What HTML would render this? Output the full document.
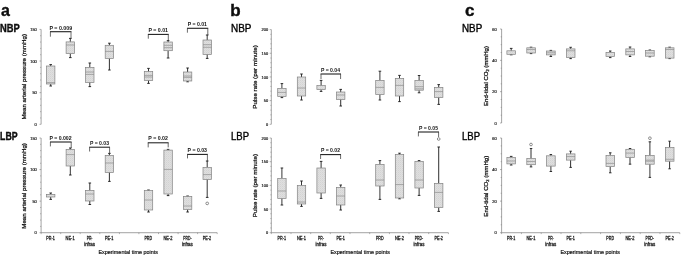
<!DOCTYPE html>
<html><head><meta charset="utf-8"><title>Figure</title>
<style>
html,body{margin:0;padding:0;background:#fff;}
body{width:685px;height:255px;overflow:hidden;}
svg{display:block;font-family:"Liberation Sans",sans-serif;}
</style></head>
<body>
<svg width="685" height="255" viewBox="0 0 685 255">
<defs>
<pattern id="dots" width="2" height="2" patternUnits="userSpaceOnUse"><rect width="2" height="2" fill="#dfdfdf"/><rect width="1" height="1" fill="#d3d3d3"/><rect x="1" y="1" width="1" height="1" fill="#d9d9d9"/></pattern>
<filter id="soft" x="-2%" y="-2%" width="104%" height="104%"><feGaussianBlur stdDeviation="0.48"/></filter>
</defs>
<rect width="685" height="255" fill="#fff"/>
<g filter="url(#soft)">
<text x="0.9" y="16.0" font-size="16" text-anchor="start" font-weight="bold" fill="#0a0a0a" stroke="#0a0a0a" stroke-width="0.3">a</text>
<text x="230.2" y="16.0" font-size="17" text-anchor="start" font-weight="bold" fill="#0a0a0a" stroke="#0a0a0a" stroke-width="0.35">b</text>
<text x="465.0" y="16.0" font-size="17" text-anchor="start" font-weight="bold" fill="#0a0a0a" stroke="#0a0a0a" stroke-width="0.35">c</text>
<text x="-0.1" y="31.9" font-size="10.3" text-anchor="start" font-weight="bold" fill="#0a0a0a" textLength="19.7" lengthAdjust="spacingAndGlyphs" stroke="#0a0a0a" stroke-width="0.35">NBP</text>
<text x="0.1" y="140.4" font-size="10.3" text-anchor="start" font-weight="bold" fill="#0a0a0a" textLength="17.5" lengthAdjust="spacingAndGlyphs" stroke="#0a0a0a" stroke-width="0.35">LBP</text>
<text x="231.0" y="32.0" font-size="10.3" text-anchor="start" font-weight="normal" fill="#000" textLength="20.4" lengthAdjust="spacingAndGlyphs" stroke="#000" stroke-width="0.36">NBP</text>
<text x="231.0" y="140.4" font-size="10.3" text-anchor="start" font-weight="normal" fill="#000" textLength="18.0" lengthAdjust="spacingAndGlyphs" stroke="#000" stroke-width="0.36">LBP</text>
<text x="462.0" y="31.6" font-size="10.3" text-anchor="start" font-weight="normal" fill="#000" textLength="20.2" lengthAdjust="spacingAndGlyphs" stroke="#000" stroke-width="0.36">NBP</text>
<text x="462.0" y="140.4" font-size="10.3" text-anchor="start" font-weight="normal" fill="#000" textLength="18.0" lengthAdjust="spacingAndGlyphs" stroke="#000" stroke-width="0.36">LBP</text>
<path d="M41.1 29.4V124.3" stroke="#666" stroke-width="0.6" fill="none"/>
<path d="M39.5 29.40H41.1M40.2 35.73H41.1M40.2 42.05H41.1M40.2 48.38H41.1M40.2 54.71H41.1M39.5 61.03H41.1M40.2 67.36H41.1M40.2 73.69H41.1M40.2 80.01H41.1M40.2 86.34H41.1M39.5 92.67H41.1M40.2 98.99H41.1M40.2 105.32H41.1M40.2 111.65H41.1M40.2 117.97H41.1M39.5 124.30H41.1" stroke="#666" stroke-width="0.5" fill="none"/>
<text x="36.8" y="31.0" font-size="4.4" text-anchor="end" font-weight="normal" fill="#111" textLength="6.6" lengthAdjust="spacingAndGlyphs" stroke="#111" stroke-width="0.18">150</text>
<text x="36.8" y="62.7" font-size="4.4" text-anchor="end" font-weight="normal" fill="#111" textLength="6.6" lengthAdjust="spacingAndGlyphs" stroke="#111" stroke-width="0.18">100</text>
<text x="36.8" y="94.3" font-size="4.4" text-anchor="end" font-weight="normal" fill="#111" textLength="4.4" lengthAdjust="spacingAndGlyphs" stroke="#111" stroke-width="0.18">50</text>
<text x="36.8" y="126.0" font-size="4.4" text-anchor="end" font-weight="normal" fill="#111" textLength="2.2" lengthAdjust="spacingAndGlyphs" stroke="#111" stroke-width="0.18">0</text>
<path d="M41.1 138.0V232.7" stroke="#666" stroke-width="0.6" fill="none"/>
<path d="M39.5 138.00H41.1M40.2 144.31H41.1M40.2 150.63H41.1M40.2 156.94H41.1M40.2 163.25H41.1M39.5 169.57H41.1M40.2 175.88H41.1M40.2 182.19H41.1M40.2 188.51H41.1M40.2 194.82H41.1M39.5 201.13H41.1M40.2 207.45H41.1M40.2 213.76H41.1M40.2 220.07H41.1M40.2 226.39H41.1M39.5 232.70H41.1" stroke="#666" stroke-width="0.5" fill="none"/>
<text x="36.8" y="139.7" font-size="4.4" text-anchor="end" font-weight="normal" fill="#111" textLength="6.6" lengthAdjust="spacingAndGlyphs" stroke="#111" stroke-width="0.18">150</text>
<text x="36.8" y="171.2" font-size="4.4" text-anchor="end" font-weight="normal" fill="#111" textLength="6.6" lengthAdjust="spacingAndGlyphs" stroke="#111" stroke-width="0.18">100</text>
<text x="36.8" y="202.8" font-size="4.4" text-anchor="end" font-weight="normal" fill="#111" textLength="4.4" lengthAdjust="spacingAndGlyphs" stroke="#111" stroke-width="0.18">50</text>
<text x="36.8" y="234.3" font-size="4.4" text-anchor="end" font-weight="normal" fill="#111" textLength="2.2" lengthAdjust="spacingAndGlyphs" stroke="#111" stroke-width="0.18">0</text>
<path d="M41.1 232.7H217.2" stroke="#666" stroke-width="0.6" fill="none"/>
<path d="M41.1 232.7v1.4M60.7 232.7v1.4M80.2 232.7v1.4M99.8 232.7v1.4M119.4 232.7v1.4M138.9 232.7v1.4M158.5 232.7v1.4M178.1 232.7v1.4M197.6 232.7v1.4M217.2 232.7v1.4" stroke="#666" stroke-width="0.5" fill="none"/>
<text x="50.5" y="240.4" font-size="4.5" text-anchor="middle" font-weight="normal" fill="#222" textLength="8.5" lengthAdjust="spacingAndGlyphs" stroke="#222" stroke-width="0.26">PR-1</text>
<text x="70.1" y="240.4" font-size="4.5" text-anchor="middle" font-weight="normal" fill="#222" textLength="9.0" lengthAdjust="spacingAndGlyphs" stroke="#222" stroke-width="0.26">NE-1</text>
<text x="89.6" y="240.4" font-size="4.5" text-anchor="middle" font-weight="normal" fill="#222" textLength="5.8" lengthAdjust="spacingAndGlyphs" stroke="#222" stroke-width="0.26">PR-</text>
<text x="89.6" y="246.0" font-size="4.5" text-anchor="middle" font-weight="normal" fill="#222" textLength="10.9" lengthAdjust="spacingAndGlyphs" stroke="#222" stroke-width="0.26">infras</text>
<text x="109.2" y="240.4" font-size="4.5" text-anchor="middle" font-weight="normal" fill="#222" textLength="8.4" lengthAdjust="spacingAndGlyphs" stroke="#222" stroke-width="0.26">PE-1</text>
<text x="148.3" y="240.4" font-size="4.5" text-anchor="middle" font-weight="normal" fill="#222" textLength="7.7" lengthAdjust="spacingAndGlyphs" stroke="#222" stroke-width="0.26">PRD</text>
<text x="167.9" y="240.4" font-size="4.5" text-anchor="middle" font-weight="normal" fill="#222" textLength="9.0" lengthAdjust="spacingAndGlyphs" stroke="#222" stroke-width="0.26">NE-2</text>
<text x="187.4" y="240.4" font-size="4.5" text-anchor="middle" font-weight="normal" fill="#222" textLength="8.4" lengthAdjust="spacingAndGlyphs" stroke="#222" stroke-width="0.26">PRD-</text>
<text x="187.4" y="246.0" font-size="4.5" text-anchor="middle" font-weight="normal" fill="#222" textLength="10.9" lengthAdjust="spacingAndGlyphs" stroke="#222" stroke-width="0.26">infras</text>
<text x="207.0" y="240.4" font-size="4.5" text-anchor="middle" font-weight="normal" fill="#222" textLength="8.4" lengthAdjust="spacingAndGlyphs" stroke="#222" stroke-width="0.26">PE-2</text>
<text x="128.2" y="253.6" font-size="5.4" text-anchor="middle" font-weight="normal" fill="#111" textLength="59.6" lengthAdjust="spacingAndGlyphs" stroke="#111" stroke-width="0.18">Experimental time points</text>
<text transform="translate(26.2 76.8) rotate(-90)" font-size="6.1" text-anchor="middle" font-weight="normal" fill="#111" stroke="#111" stroke-width="0.25" textLength="85.6" lengthAdjust="spacingAndGlyphs">Mean arterial pressure (mmHg)</text>
<text transform="translate(26.2 185.9) rotate(-90)" font-size="6.1" text-anchor="middle" font-weight="normal" fill="#111" stroke="#111" stroke-width="0.25" textLength="85.6" lengthAdjust="spacingAndGlyphs">Mean arterial pressure (mmHg)</text>
<path d="M50.7 64.6V66.0M49.4 64.6H52.0" stroke="#1c1c1c" stroke-width="0.9" fill="none"/><path d="M50.7 84.0V86.0M49.4 86.0H52.0" stroke="#1c1c1c" stroke-width="0.9" fill="none"/><rect x="46.5" y="66.0" width="8.4" height="18.0" fill="url(#dots)" stroke="#828282" stroke-width="0.7"/><path d="M46.5 82.6H54.9" stroke="#828282" stroke-width="0.6"/>
<path d="M70.3 38.4V41.9M69.0 38.4H71.6" stroke="#1c1c1c" stroke-width="0.9" fill="none"/><path d="M70.3 53.6V57.6M69.0 57.6H71.6" stroke="#1c1c1c" stroke-width="0.9" fill="none"/><rect x="66.1" y="41.9" width="8.4" height="11.7" fill="url(#dots)" stroke="#828282" stroke-width="0.7"/><path d="M66.1 45.0H74.5" stroke="#828282" stroke-width="0.6"/>
<path d="M89.8 63.0V67.4M88.5 63.0H91.1" stroke="#1c1c1c" stroke-width="0.9" fill="none"/><path d="M89.8 82.4V86.6M88.5 86.6H91.1" stroke="#1c1c1c" stroke-width="0.9" fill="none"/><rect x="85.6" y="67.4" width="8.4" height="15.0" fill="url(#dots)" stroke="#828282" stroke-width="0.7"/><path d="M85.6 72.0H94.0" stroke="#828282" stroke-width="0.6"/><path d="M85.6 74.4H94.0" stroke="#828282" stroke-width="0.6"/>
<path d="M109.4 43.2V45.3M108.1 43.2H110.7" stroke="#1c1c1c" stroke-width="0.9" fill="none"/><path d="M109.4 58.4V70.0M108.1 70.0H110.7" stroke="#1c1c1c" stroke-width="0.9" fill="none"/><rect x="105.2" y="45.3" width="8.4" height="13.1" fill="url(#dots)" stroke="#828282" stroke-width="0.7"/><path d="M105.2 51.4H113.6" stroke="#828282" stroke-width="0.6"/>
<path d="M148.5 68.4V71.6M147.2 68.4H149.8" stroke="#1c1c1c" stroke-width="0.9" fill="none"/><path d="M148.5 80.4V83.4M147.2 83.4H149.8" stroke="#1c1c1c" stroke-width="0.9" fill="none"/><rect x="144.3" y="71.6" width="8.4" height="8.8" fill="url(#dots)" stroke="#828282" stroke-width="0.7"/><path d="M144.3 75.4H152.7" stroke="#828282" stroke-width="0.6"/><path d="M144.3 77.0H152.7" stroke="#828282" stroke-width="0.6"/>
<path d="M168.1 40.6V42.0M166.8 40.6H169.4" stroke="#1c1c1c" stroke-width="0.9" fill="none"/><path d="M168.1 50.7V58.0M166.8 58.0H169.4" stroke="#1c1c1c" stroke-width="0.9" fill="none"/><rect x="163.9" y="42.0" width="8.4" height="8.7" fill="url(#dots)" stroke="#828282" stroke-width="0.7"/><path d="M163.9 45.3H172.3" stroke="#828282" stroke-width="0.6"/><path d="M163.9 47.7H172.3" stroke="#828282" stroke-width="0.6"/>
<path d="M187.6 68.0V72.0M186.3 68.0H188.9" stroke="#1c1c1c" stroke-width="0.9" fill="none"/><path d="M187.6 81.0V81.8M186.3 81.8H188.9" stroke="#1c1c1c" stroke-width="0.9" fill="none"/><rect x="183.4" y="72.0" width="8.4" height="9.0" fill="url(#dots)" stroke="#828282" stroke-width="0.7"/><path d="M183.4 76.0H191.8" stroke="#828282" stroke-width="0.6"/><path d="M183.4 77.4H191.8" stroke="#828282" stroke-width="0.6"/>
<path d="M207.2 35.0V40.0M205.9 35.0H208.5" stroke="#1c1c1c" stroke-width="0.9" fill="none"/><path d="M207.2 54.4V58.4M205.9 58.4H208.5" stroke="#1c1c1c" stroke-width="0.9" fill="none"/><rect x="203.0" y="40.0" width="8.4" height="14.4" fill="url(#dots)" stroke="#828282" stroke-width="0.7"/><path d="M203.0 44.7H211.4" stroke="#828282" stroke-width="0.6"/><path d="M203.0 47.3H211.4" stroke="#828282" stroke-width="0.6"/>
<path d="M50.0 31.7H71.4" stroke="#1a1a1a" stroke-width="1.05" fill="none"/><path d="M50.4 31.7V36.7M71.0 31.7V38.4" stroke="#3a3a3a" stroke-width="0.75" fill="none"/>
<text x="49.4" y="29.8" font-size="5.1" text-anchor="start" font-weight="bold" fill="#111" textLength="22.8" lengthAdjust="spacingAndGlyphs">P = 0.009</text>
<path d="M147.9 34.4H168.7" stroke="#1a1a1a" stroke-width="1.05" fill="none"/><path d="M148.3 34.4V38.7M168.3 34.4V40.6" stroke="#3a3a3a" stroke-width="0.75" fill="none"/>
<text x="148.4" y="32.0" font-size="5.1" text-anchor="start" font-weight="bold" fill="#111" textLength="19.6" lengthAdjust="spacingAndGlyphs">P = 0.01</text>
<path d="M187.0 28.3H208.2" stroke="#1a1a1a" stroke-width="1.05" fill="none"/><path d="M187.4 28.3V32.7M207.8 28.3V35.0" stroke="#3a3a3a" stroke-width="0.75" fill="none"/>
<text x="187.7" y="25.6" font-size="5.1" text-anchor="start" font-weight="bold" fill="#111" textLength="19.3" lengthAdjust="spacingAndGlyphs">P = 0.01</text>
<path d="M50.7 193.0V194.4M49.4 193.0H52.0" stroke="#1c1c1c" stroke-width="0.9" fill="none"/><path d="M50.7 197.0V199.4M49.4 199.4H52.0" stroke="#1c1c1c" stroke-width="0.9" fill="none"/><rect x="46.5" y="194.4" width="8.4" height="2.6" fill="url(#dots)" stroke="#828282" stroke-width="0.7"/>
<path d="M70.3 148.0V149.4M69.0 148.0H71.6" stroke="#1c1c1c" stroke-width="0.9" fill="none"/><path d="M70.3 166.0V175.0M69.0 175.0H71.6" stroke="#1c1c1c" stroke-width="0.9" fill="none"/><rect x="66.1" y="149.4" width="8.4" height="16.6" fill="url(#dots)" stroke="#828282" stroke-width="0.7"/><path d="M66.1 154.6H74.5" stroke="#828282" stroke-width="0.6"/>
<path d="M89.8 183.0V190.4M88.5 183.0H91.1" stroke="#1c1c1c" stroke-width="0.9" fill="none"/><path d="M89.8 201.0V204.5M88.5 204.5H91.1" stroke="#1c1c1c" stroke-width="0.9" fill="none"/><rect x="85.6" y="190.4" width="8.4" height="10.6" fill="url(#dots)" stroke="#828282" stroke-width="0.7"/><path d="M85.6 194.0H94.0" stroke="#828282" stroke-width="0.6"/>
<path d="M109.4 153.4V155.4M108.1 153.4H110.7" stroke="#1c1c1c" stroke-width="0.9" fill="none"/><path d="M109.4 172.4V181.4M108.1 181.4H110.7" stroke="#1c1c1c" stroke-width="0.9" fill="none"/><rect x="105.2" y="155.4" width="8.4" height="17.0" fill="url(#dots)" stroke="#828282" stroke-width="0.7"/><path d="M105.2 163.0H113.6" stroke="#828282" stroke-width="0.6"/>
<path d="M148.5 190.0V190.6M147.2 190.0H149.8" stroke="#1c1c1c" stroke-width="0.9" fill="none"/><path d="M148.5 210.0V212.0M147.2 212.0H149.8" stroke="#1c1c1c" stroke-width="0.9" fill="none"/><rect x="144.3" y="190.6" width="8.4" height="19.4" fill="url(#dots)" stroke="#828282" stroke-width="0.7"/><path d="M144.3 200.0H152.7" stroke="#828282" stroke-width="0.6"/>
<path d="M168.1 149.4V150.1M166.8 149.4H169.4" stroke="#1c1c1c" stroke-width="0.9" fill="none"/><path d="M168.1 194.0V195.6M166.8 195.6H169.4" stroke="#1c1c1c" stroke-width="0.9" fill="none"/><rect x="163.9" y="150.1" width="8.4" height="43.9" fill="url(#dots)" stroke="#828282" stroke-width="0.7"/><path d="M163.9 169.4H172.3" stroke="#828282" stroke-width="0.6"/>
<path d="M187.6 196.0V196.4M186.3 196.0H188.9" stroke="#1c1c1c" stroke-width="0.9" fill="none"/><path d="M187.6 209.4V212.0M186.3 212.0H188.9" stroke="#1c1c1c" stroke-width="0.9" fill="none"/><rect x="183.4" y="196.4" width="8.4" height="13.0" fill="url(#dots)" stroke="#828282" stroke-width="0.7"/><path d="M183.4 206.0H191.8" stroke="#828282" stroke-width="0.6"/>
<path d="M207.2 161.0V167.4M205.9 161.0H208.5" stroke="#1c1c1c" stroke-width="0.9" fill="none"/><path d="M207.2 179.4V197.4M205.9 197.4H208.5" stroke="#1c1c1c" stroke-width="0.9" fill="none"/><rect x="203.0" y="167.4" width="8.4" height="12.0" fill="url(#dots)" stroke="#828282" stroke-width="0.7"/><path d="M203.0 174.6H211.4" stroke="#828282" stroke-width="0.6"/><circle cx="207.2" cy="203.4" r="1.35" fill="#fff" stroke="#555" stroke-width="0.65"/>
<path d="M50.0 142.0H71.6" stroke="#1a1a1a" stroke-width="1.05" fill="none"/><path d="M50.4 142.0V146.4M71.2 142.0V148.0" stroke="#3a3a3a" stroke-width="0.75" fill="none"/>
<text x="49.4" y="140.2" font-size="5.1" text-anchor="start" font-weight="bold" fill="#111" textLength="22.2" lengthAdjust="spacingAndGlyphs">P = 0.002</text>
<path d="M89.2 147.2H110.0" stroke="#1a1a1a" stroke-width="1.05" fill="none"/><path d="M89.6 147.2V151.5M109.6 147.2V153.4" stroke="#3a3a3a" stroke-width="0.75" fill="none"/>
<text x="90.0" y="145.0" font-size="5.1" text-anchor="start" font-weight="bold" fill="#111" textLength="19.0" lengthAdjust="spacingAndGlyphs">P = 0.03</text>
<path d="M147.8 142.8H168.6" stroke="#1a1a1a" stroke-width="1.05" fill="none"/><path d="M148.2 142.8V147.4M168.2 142.8V147.4" stroke="#3a3a3a" stroke-width="0.75" fill="none"/>
<text x="148.3" y="140.3" font-size="5.1" text-anchor="start" font-weight="bold" fill="#111" textLength="19.7" lengthAdjust="spacingAndGlyphs">P = 0.02</text>
<path d="M187.1 154.4H207.8" stroke="#1a1a1a" stroke-width="1.05" fill="none"/><path d="M187.5 154.4V158.4M207.4 154.4V161.0" stroke="#3a3a3a" stroke-width="0.75" fill="none"/>
<text x="187.6" y="152.1" font-size="5.1" text-anchor="start" font-weight="bold" fill="#111" textLength="19.4" lengthAdjust="spacingAndGlyphs">P = 0.03</text>
<path d="M271.3 29.6V124.3" stroke="#666" stroke-width="0.6" fill="none"/>
<path d="M269.7 29.60H271.3M270.4 34.34H271.3M270.4 39.07H271.3M270.4 43.80H271.3M270.4 48.54H271.3M269.7 53.27H271.3M270.4 58.01H271.3M270.4 62.74H271.3M270.4 67.48H271.3M270.4 72.22H271.3M269.7 76.95H271.3M270.4 81.69H271.3M270.4 86.42H271.3M270.4 91.16H271.3M270.4 95.89H271.3M269.7 100.62H271.3M270.4 105.36H271.3M270.4 110.09H271.3M270.4 114.83H271.3M270.4 119.56H271.3M269.7 124.30H271.3" stroke="#666" stroke-width="0.5" fill="none"/>
<text x="268.2" y="31.2" font-size="4.4" text-anchor="end" font-weight="normal" fill="#111" textLength="6.6" lengthAdjust="spacingAndGlyphs" stroke="#111" stroke-width="0.18">200</text>
<text x="268.2" y="54.9" font-size="4.4" text-anchor="end" font-weight="normal" fill="#111" textLength="6.6" lengthAdjust="spacingAndGlyphs" stroke="#111" stroke-width="0.18">150</text>
<text x="268.2" y="78.6" font-size="4.4" text-anchor="end" font-weight="normal" fill="#111" textLength="6.6" lengthAdjust="spacingAndGlyphs" stroke="#111" stroke-width="0.18">100</text>
<text x="268.2" y="102.3" font-size="4.4" text-anchor="end" font-weight="normal" fill="#111" textLength="4.4" lengthAdjust="spacingAndGlyphs" stroke="#111" stroke-width="0.18">50</text>
<text x="268.2" y="125.9" font-size="4.4" text-anchor="end" font-weight="normal" fill="#111" textLength="2.2" lengthAdjust="spacingAndGlyphs" stroke="#111" stroke-width="0.18">0</text>
<path d="M271.3 138.0V232.7" stroke="#666" stroke-width="0.6" fill="none"/>
<path d="M269.7 138.00H271.3M270.4 142.74H271.3M270.4 147.47H271.3M270.4 152.20H271.3M270.4 156.94H271.3M269.7 161.68H271.3M270.4 166.41H271.3M270.4 171.14H271.3M270.4 175.88H271.3M270.4 180.62H271.3M269.7 185.35H271.3M270.4 190.08H271.3M270.4 194.82H271.3M270.4 199.56H271.3M270.4 204.29H271.3M269.7 209.02H271.3M270.4 213.76H271.3M270.4 218.50H271.3M270.4 223.23H271.3M270.4 227.96H271.3M269.7 232.70H271.3" stroke="#666" stroke-width="0.5" fill="none"/>
<text x="268.2" y="139.7" font-size="4.4" text-anchor="end" font-weight="normal" fill="#111" textLength="6.6" lengthAdjust="spacingAndGlyphs" stroke="#111" stroke-width="0.18">200</text>
<text x="268.2" y="163.3" font-size="4.4" text-anchor="end" font-weight="normal" fill="#111" textLength="6.6" lengthAdjust="spacingAndGlyphs" stroke="#111" stroke-width="0.18">150</text>
<text x="268.2" y="187.0" font-size="4.4" text-anchor="end" font-weight="normal" fill="#111" textLength="6.6" lengthAdjust="spacingAndGlyphs" stroke="#111" stroke-width="0.18">100</text>
<text x="268.2" y="210.7" font-size="4.4" text-anchor="end" font-weight="normal" fill="#111" textLength="4.4" lengthAdjust="spacingAndGlyphs" stroke="#111" stroke-width="0.18">50</text>
<text x="268.2" y="234.3" font-size="4.4" text-anchor="end" font-weight="normal" fill="#111" textLength="2.2" lengthAdjust="spacingAndGlyphs" stroke="#111" stroke-width="0.18">0</text>
<path d="M271.3 232.7H448.4" stroke="#666" stroke-width="0.6" fill="none"/>
<path d="M271.3 232.7v1.4M291.0 232.7v1.4M310.7 232.7v1.4M330.3 232.7v1.4M350.0 232.7v1.4M369.7 232.7v1.4M389.4 232.7v1.4M409.0 232.7v1.4M428.7 232.7v1.4M448.4 232.7v1.4" stroke="#666" stroke-width="0.5" fill="none"/>
<text x="281.8" y="240.4" font-size="4.5" text-anchor="middle" font-weight="normal" fill="#222" textLength="8.5" lengthAdjust="spacingAndGlyphs" stroke="#222" stroke-width="0.26">PR-1</text>
<text x="301.4" y="240.4" font-size="4.5" text-anchor="middle" font-weight="normal" fill="#222" textLength="9.0" lengthAdjust="spacingAndGlyphs" stroke="#222" stroke-width="0.26">NE-1</text>
<text x="321.0" y="240.4" font-size="4.5" text-anchor="middle" font-weight="normal" fill="#222" textLength="5.8" lengthAdjust="spacingAndGlyphs" stroke="#222" stroke-width="0.26">PR-</text>
<text x="321.0" y="246.0" font-size="4.5" text-anchor="middle" font-weight="normal" fill="#222" textLength="10.9" lengthAdjust="spacingAndGlyphs" stroke="#222" stroke-width="0.26">infras</text>
<text x="340.6" y="240.4" font-size="4.5" text-anchor="middle" font-weight="normal" fill="#222" textLength="8.4" lengthAdjust="spacingAndGlyphs" stroke="#222" stroke-width="0.26">PE-1</text>
<text x="379.8" y="240.4" font-size="4.5" text-anchor="middle" font-weight="normal" fill="#222" textLength="7.7" lengthAdjust="spacingAndGlyphs" stroke="#222" stroke-width="0.26">PRD</text>
<text x="399.4" y="240.4" font-size="4.5" text-anchor="middle" font-weight="normal" fill="#222" textLength="9.0" lengthAdjust="spacingAndGlyphs" stroke="#222" stroke-width="0.26">NE-2</text>
<text x="419.0" y="240.4" font-size="4.5" text-anchor="middle" font-weight="normal" fill="#222" textLength="8.4" lengthAdjust="spacingAndGlyphs" stroke="#222" stroke-width="0.26">PRD-</text>
<text x="419.0" y="246.0" font-size="4.5" text-anchor="middle" font-weight="normal" fill="#222" textLength="10.9" lengthAdjust="spacingAndGlyphs" stroke="#222" stroke-width="0.26">infras</text>
<text x="438.6" y="240.4" font-size="4.5" text-anchor="middle" font-weight="normal" fill="#222" textLength="8.4" lengthAdjust="spacingAndGlyphs" stroke="#222" stroke-width="0.26">PE-2</text>
<text x="360.2" y="253.6" font-size="5.4" text-anchor="middle" font-weight="normal" fill="#111" textLength="59.6" lengthAdjust="spacingAndGlyphs" stroke="#111" stroke-width="0.18">Experimental time points</text>
<text transform="translate(257.0 77.0) rotate(-90)" font-size="6.1" text-anchor="middle" font-weight="normal" fill="#111" stroke="#111" stroke-width="0.25" textLength="63.5" lengthAdjust="spacingAndGlyphs">Pulse rate (per minute)</text>
<text transform="translate(257.0 185.6) rotate(-90)" font-size="6.1" text-anchor="middle" font-weight="normal" fill="#111" stroke="#111" stroke-width="0.25" textLength="63.1" lengthAdjust="spacingAndGlyphs">Pulse rate (per minute)</text>
<path d="M281.9 83.6V88.4M280.6 83.6H283.2" stroke="#1c1c1c" stroke-width="0.9" fill="none"/><path d="M281.9 96.4V97.6M280.6 97.6H283.2" stroke="#1c1c1c" stroke-width="0.9" fill="none"/><rect x="277.7" y="88.4" width="8.4" height="8.0" fill="url(#dots)" stroke="#828282" stroke-width="0.7"/><path d="M277.7 92.4H286.1" stroke="#828282" stroke-width="0.6"/>
<path d="M301.5 74.0V77.0M300.2 74.0H302.8" stroke="#1c1c1c" stroke-width="0.9" fill="none"/><path d="M301.5 96.0V100.0M300.2 100.0H302.8" stroke="#1c1c1c" stroke-width="0.9" fill="none"/><rect x="297.3" y="77.0" width="8.4" height="19.0" fill="url(#dots)" stroke="#828282" stroke-width="0.7"/><path d="M297.3 88.0H305.7" stroke="#828282" stroke-width="0.6"/>
<path d="M321.1 80.4V85.6M319.8 80.4H322.4" stroke="#1c1c1c" stroke-width="0.9" fill="none"/><path d="M321.1 89.6V91.4M319.8 91.4H322.4" stroke="#1c1c1c" stroke-width="0.9" fill="none"/><rect x="316.9" y="85.6" width="8.4" height="4.0" fill="url(#dots)" stroke="#828282" stroke-width="0.7"/>
<path d="M340.7 89.4V92.0M339.4 89.4H342.0" stroke="#1c1c1c" stroke-width="0.9" fill="none"/><path d="M340.7 99.4V106.0M339.4 106.0H342.0" stroke="#1c1c1c" stroke-width="0.9" fill="none"/><rect x="336.5" y="92.0" width="8.4" height="7.4" fill="url(#dots)" stroke="#828282" stroke-width="0.7"/><path d="M336.5 95.0H344.9" stroke="#828282" stroke-width="0.6"/>
<path d="M379.9 71.2V80.4M378.6 71.2H381.2" stroke="#1c1c1c" stroke-width="0.9" fill="none"/><path d="M379.9 94.6V100.0M378.6 100.0H381.2" stroke="#1c1c1c" stroke-width="0.9" fill="none"/><rect x="375.7" y="80.4" width="8.4" height="14.2" fill="url(#dots)" stroke="#828282" stroke-width="0.7"/><path d="M375.7 87.4H384.1" stroke="#828282" stroke-width="0.6"/>
<path d="M399.5 75.4V78.4M398.2 75.4H400.8" stroke="#1c1c1c" stroke-width="0.9" fill="none"/><path d="M399.5 96.0V101.6M398.2 101.6H400.8" stroke="#1c1c1c" stroke-width="0.9" fill="none"/><rect x="395.3" y="78.4" width="8.4" height="17.6" fill="url(#dots)" stroke="#828282" stroke-width="0.7"/><path d="M395.3 85.4H403.7" stroke="#828282" stroke-width="0.6"/>
<path d="M419.1 75.5V80.5M417.8 75.5H420.4" stroke="#1c1c1c" stroke-width="0.9" fill="none"/><path d="M419.1 90.2V92.8M417.8 92.8H420.4" stroke="#1c1c1c" stroke-width="0.9" fill="none"/><rect x="414.9" y="80.5" width="8.4" height="9.7" fill="url(#dots)" stroke="#828282" stroke-width="0.7"/><path d="M414.9 86.7H423.3" stroke="#828282" stroke-width="0.6"/><path d="M414.9 88.9H423.3" stroke="#828282" stroke-width="0.6"/>
<path d="M438.7 84.6V87.4M437.4 84.6H440.0" stroke="#1c1c1c" stroke-width="0.9" fill="none"/><path d="M438.7 97.4V104.4M437.4 104.4H440.0" stroke="#1c1c1c" stroke-width="0.9" fill="none"/><rect x="434.5" y="87.4" width="8.4" height="10.0" fill="url(#dots)" stroke="#828282" stroke-width="0.7"/><path d="M434.5 91.6H442.9" stroke="#828282" stroke-width="0.6"/>
<path d="M320.6 74.0H341.0" stroke="#1a1a1a" stroke-width="1.05" fill="none"/><path d="M321.0 74.0V79.0M340.6 74.0V79.0" stroke="#3a3a3a" stroke-width="0.75" fill="none"/>
<text x="321.0" y="72.2" font-size="5.1" text-anchor="start" font-weight="bold" fill="#111" textLength="19.0" lengthAdjust="spacingAndGlyphs">P = 0.04</text>
<path d="M281.9 168.0V178.4M280.6 168.0H283.2" stroke="#1c1c1c" stroke-width="0.9" fill="none"/><path d="M281.9 198.4V205.0M280.6 205.0H283.2" stroke="#1c1c1c" stroke-width="0.9" fill="none"/><rect x="277.7" y="178.4" width="8.4" height="20.0" fill="url(#dots)" stroke="#828282" stroke-width="0.7"/><path d="M277.7 191.0H286.1" stroke="#828282" stroke-width="0.6"/>
<path d="M301.5 181.0V185.6M300.2 181.0H302.8" stroke="#1c1c1c" stroke-width="0.9" fill="none"/><path d="M301.5 204.0V206.4M300.2 206.4H302.8" stroke="#1c1c1c" stroke-width="0.9" fill="none"/><rect x="297.3" y="185.6" width="8.4" height="18.4" fill="url(#dots)" stroke="#828282" stroke-width="0.7"/><path d="M297.3 202.0H305.7" stroke="#828282" stroke-width="0.6"/>
<path d="M321.1 161.4V168.0M319.8 161.4H322.4" stroke="#1c1c1c" stroke-width="0.9" fill="none"/><path d="M321.1 193.0V198.4M319.8 198.4H322.4" stroke="#1c1c1c" stroke-width="0.9" fill="none"/><rect x="316.9" y="168.0" width="8.4" height="25.0" fill="url(#dots)" stroke="#828282" stroke-width="0.7"/>
<path d="M340.7 185.0V187.4M339.4 185.0H342.0" stroke="#1c1c1c" stroke-width="0.9" fill="none"/><path d="M340.7 205.0V210.0M339.4 210.0H342.0" stroke="#1c1c1c" stroke-width="0.9" fill="none"/><rect x="336.5" y="187.4" width="8.4" height="17.6" fill="url(#dots)" stroke="#828282" stroke-width="0.7"/><path d="M336.5 196.0H344.9" stroke="#828282" stroke-width="0.6"/>
<path d="M379.9 160.6V164.4M378.6 160.6H381.2" stroke="#1c1c1c" stroke-width="0.9" fill="none"/><path d="M379.9 186.0V199.4M378.6 199.4H381.2" stroke="#1c1c1c" stroke-width="0.9" fill="none"/><rect x="375.7" y="164.4" width="8.4" height="21.6" fill="url(#dots)" stroke="#828282" stroke-width="0.7"/><path d="M375.7 180.0H384.1" stroke="#828282" stroke-width="0.6"/>
<path d="M399.5 153.2V154.5M398.2 153.2H400.8" stroke="#1c1c1c" stroke-width="0.9" fill="none"/><path d="M399.5 198.0V198.8M398.2 198.8H400.8" stroke="#1c1c1c" stroke-width="0.9" fill="none"/><rect x="395.3" y="154.5" width="8.4" height="43.5" fill="url(#dots)" stroke="#828282" stroke-width="0.7"/><path d="M395.3 184.6H403.7" stroke="#828282" stroke-width="0.6"/>
<path d="M419.1 160.6V161.4M417.8 160.6H420.4" stroke="#1c1c1c" stroke-width="0.9" fill="none"/><path d="M419.1 188.0V195.4M417.8 195.4H420.4" stroke="#1c1c1c" stroke-width="0.9" fill="none"/><rect x="414.9" y="161.4" width="8.4" height="26.6" fill="url(#dots)" stroke="#828282" stroke-width="0.7"/><path d="M414.9 180.0H423.3" stroke="#828282" stroke-width="0.6"/>
<path d="M438.7 147.0V183.4M437.4 147.0H440.0" stroke="#1c1c1c" stroke-width="0.9" fill="none"/><path d="M438.7 207.4V211.4M437.4 211.4H440.0" stroke="#1c1c1c" stroke-width="0.9" fill="none"/><rect x="434.5" y="183.4" width="8.4" height="24.0" fill="url(#dots)" stroke="#828282" stroke-width="0.7"/><path d="M434.5 192.4H442.9" stroke="#828282" stroke-width="0.6"/><circle cx="438.7" cy="139.0" r="1.35" fill="#fff" stroke="#555" stroke-width="0.65"/>
<path d="M320.2 154.6H341.0" stroke="#1a1a1a" stroke-width="1.05" fill="none"/><path d="M320.6 154.6V159.0M340.6 154.6V159.0" stroke="#3a3a3a" stroke-width="0.75" fill="none"/>
<text x="321.0" y="152.4" font-size="5.1" text-anchor="start" font-weight="bold" fill="#111" textLength="19.0" lengthAdjust="spacingAndGlyphs">P = 0.02</text>
<path d="M418.0 132.0H439.0" stroke="#1a1a1a" stroke-width="1.05" fill="none"/><path d="M418.4 132.0V136.4M438.6 132.0V137.0" stroke="#3a3a3a" stroke-width="0.75" fill="none"/>
<text x="419.0" y="129.8" font-size="5.1" text-anchor="start" font-weight="bold" fill="#111" textLength="19.0" lengthAdjust="spacingAndGlyphs">P = 0.05</text>
<path d="M501.6 29.0V123.0" stroke="#666" stroke-width="0.6" fill="none"/>
<path d="M500.0 29.00H501.6M500.7 36.83H501.6M500.7 44.67H501.6M500.7 52.50H501.6M500.0 60.33H501.6M500.7 68.17H501.6M500.7 76.00H501.6M500.7 83.83H501.6M500.0 91.67H501.6M500.7 99.50H501.6M500.7 107.33H501.6M500.7 115.17H501.6M500.0 123.00H501.6" stroke="#666" stroke-width="0.5" fill="none"/>
<text x="496.7" y="30.6" font-size="4.4" text-anchor="end" font-weight="normal" fill="#111" textLength="4.4" lengthAdjust="spacingAndGlyphs" stroke="#111" stroke-width="0.18">60</text>
<text x="496.7" y="62.0" font-size="4.4" text-anchor="end" font-weight="normal" fill="#111" textLength="4.4" lengthAdjust="spacingAndGlyphs" stroke="#111" stroke-width="0.18">40</text>
<text x="496.7" y="93.3" font-size="4.4" text-anchor="end" font-weight="normal" fill="#111" textLength="4.4" lengthAdjust="spacingAndGlyphs" stroke="#111" stroke-width="0.18">20</text>
<text x="496.7" y="124.7" font-size="4.4" text-anchor="end" font-weight="normal" fill="#111" textLength="2.2" lengthAdjust="spacingAndGlyphs" stroke="#111" stroke-width="0.18">0</text>
<path d="M501.6 138.0V232.7" stroke="#666" stroke-width="0.6" fill="none"/>
<path d="M500.0 138.00H501.6M500.7 145.89H501.6M500.7 153.78H501.6M500.7 161.68H501.6M500.0 169.57H501.6M500.7 177.46H501.6M500.7 185.35H501.6M500.7 193.24H501.6M500.0 201.13H501.6M500.7 209.02H501.6M500.7 216.92H501.6M500.7 224.81H501.6M500.0 232.70H501.6" stroke="#666" stroke-width="0.5" fill="none"/>
<text x="496.7" y="139.7" font-size="4.4" text-anchor="end" font-weight="normal" fill="#111" textLength="4.4" lengthAdjust="spacingAndGlyphs" stroke="#111" stroke-width="0.18">60</text>
<text x="496.7" y="171.2" font-size="4.4" text-anchor="end" font-weight="normal" fill="#111" textLength="4.4" lengthAdjust="spacingAndGlyphs" stroke="#111" stroke-width="0.18">40</text>
<text x="496.7" y="202.8" font-size="4.4" text-anchor="end" font-weight="normal" fill="#111" textLength="4.4" lengthAdjust="spacingAndGlyphs" stroke="#111" stroke-width="0.18">20</text>
<text x="496.7" y="234.3" font-size="4.4" text-anchor="end" font-weight="normal" fill="#111" textLength="2.2" lengthAdjust="spacingAndGlyphs" stroke="#111" stroke-width="0.18">0</text>
<path d="M501.6 232.7H679.8" stroke="#666" stroke-width="0.6" fill="none"/>
<path d="M501.6 232.7v1.4M521.4 232.7v1.4M541.2 232.7v1.4M561.0 232.7v1.4M580.8 232.7v1.4M600.6 232.7v1.4M620.4 232.7v1.4M640.2 232.7v1.4M660.0 232.7v1.4M679.8 232.7v1.4" stroke="#666" stroke-width="0.5" fill="none"/>
<text x="511.2" y="240.4" font-size="4.5" text-anchor="middle" font-weight="normal" fill="#222" textLength="8.5" lengthAdjust="spacingAndGlyphs" stroke="#222" stroke-width="0.26">PR-1</text>
<text x="531.0" y="240.4" font-size="4.5" text-anchor="middle" font-weight="normal" fill="#222" textLength="9.0" lengthAdjust="spacingAndGlyphs" stroke="#222" stroke-width="0.26">NE-1</text>
<text x="550.8" y="240.4" font-size="4.5" text-anchor="middle" font-weight="normal" fill="#222" textLength="5.8" lengthAdjust="spacingAndGlyphs" stroke="#222" stroke-width="0.26">PR-</text>
<text x="550.8" y="246.0" font-size="4.5" text-anchor="middle" font-weight="normal" fill="#222" textLength="10.9" lengthAdjust="spacingAndGlyphs" stroke="#222" stroke-width="0.26">infras</text>
<text x="570.6" y="240.4" font-size="4.5" text-anchor="middle" font-weight="normal" fill="#222" textLength="8.4" lengthAdjust="spacingAndGlyphs" stroke="#222" stroke-width="0.26">PE-1</text>
<text x="610.2" y="240.4" font-size="4.5" text-anchor="middle" font-weight="normal" fill="#222" textLength="7.7" lengthAdjust="spacingAndGlyphs" stroke="#222" stroke-width="0.26">PRD</text>
<text x="630.0" y="240.4" font-size="4.5" text-anchor="middle" font-weight="normal" fill="#222" textLength="9.0" lengthAdjust="spacingAndGlyphs" stroke="#222" stroke-width="0.26">NE-2</text>
<text x="649.8" y="240.4" font-size="4.5" text-anchor="middle" font-weight="normal" fill="#222" textLength="8.4" lengthAdjust="spacingAndGlyphs" stroke="#222" stroke-width="0.26">PRD-</text>
<text x="649.8" y="246.0" font-size="4.5" text-anchor="middle" font-weight="normal" fill="#222" textLength="10.9" lengthAdjust="spacingAndGlyphs" stroke="#222" stroke-width="0.26">infras</text>
<text x="669.6" y="240.4" font-size="4.5" text-anchor="middle" font-weight="normal" fill="#222" textLength="8.4" lengthAdjust="spacingAndGlyphs" stroke="#222" stroke-width="0.26">PE-2</text>
<text x="590.2" y="253.6" font-size="5.4" text-anchor="middle" font-weight="normal" fill="#111" textLength="59.6" lengthAdjust="spacingAndGlyphs" stroke="#111" stroke-width="0.18">Experimental time points</text>
<text transform="translate(488.4 76.0) rotate(-90)" font-size="6.1" text-anchor="middle" fill="#111" stroke="#111" stroke-width="0.25" textLength="59.9" lengthAdjust="spacingAndGlyphs">End-tidal CO<tspan font-size="4" dy="1">2</tspan><tspan dy="-1"> (mmHg)</tspan></text>
<text transform="translate(488.4 186.2) rotate(-90)" font-size="6.1" text-anchor="middle" fill="#111" stroke="#111" stroke-width="0.25" textLength="60.9" lengthAdjust="spacingAndGlyphs">End-tidal CO<tspan font-size="4" dy="1">2</tspan><tspan dy="-1"> (mmHg)</tspan></text>
<path d="M511.2 48.4V50.8M509.9 48.4H512.5" stroke="#1c1c1c" stroke-width="0.9" fill="none"/><path d="M511.2 54.3V54.8M509.9 54.8H512.5" stroke="#1c1c1c" stroke-width="0.9" fill="none"/><rect x="506.9" y="50.8" width="8.6" height="3.5" fill="url(#dots)" stroke="#828282" stroke-width="0.7"/>
<path d="M531.0 47.2V47.8M529.8 47.2H532.3" stroke="#1c1c1c" stroke-width="0.9" fill="none"/><path d="M531.0 53.0V53.6M529.8 53.6H532.3" stroke="#1c1c1c" stroke-width="0.9" fill="none"/><rect x="526.8" y="47.8" width="8.6" height="5.2" fill="url(#dots)" stroke="#828282" stroke-width="0.7"/><path d="M526.8 49.5H535.3" stroke="#828282" stroke-width="0.6"/>
<path d="M550.9 50.4V51.0M549.6 50.4H552.1" stroke="#1c1c1c" stroke-width="0.9" fill="none"/><path d="M550.9 54.9V56.5M549.6 56.5H552.1" stroke="#1c1c1c" stroke-width="0.9" fill="none"/><rect x="546.6" y="51.0" width="8.6" height="3.9" fill="url(#dots)" stroke="#828282" stroke-width="0.7"/><path d="M546.6 52.8H555.1" stroke="#828282" stroke-width="0.6"/>
<path d="M570.6 47.3V48.9M569.4 47.3H571.9" stroke="#1c1c1c" stroke-width="0.9" fill="none"/><path d="M570.6 57.6V58.6M569.4 58.6H571.9" stroke="#1c1c1c" stroke-width="0.9" fill="none"/><rect x="566.4" y="48.9" width="8.6" height="8.7" fill="url(#dots)" stroke="#828282" stroke-width="0.7"/><path d="M566.4 50.8H574.9" stroke="#828282" stroke-width="0.6"/>
<path d="M610.2 51.0V52.4M609.0 51.0H611.5" stroke="#1c1c1c" stroke-width="0.9" fill="none"/><path d="M610.2 56.5V57.6M609.0 57.6H611.5" stroke="#1c1c1c" stroke-width="0.9" fill="none"/><rect x="606.0" y="52.4" width="8.6" height="4.1" fill="url(#dots)" stroke="#828282" stroke-width="0.7"/>
<path d="M630.0 47.0V48.9M628.8 47.0H631.3" stroke="#1c1c1c" stroke-width="0.9" fill="none"/><path d="M630.0 54.9V56.5M628.8 56.5H631.3" stroke="#1c1c1c" stroke-width="0.9" fill="none"/><rect x="625.8" y="48.9" width="8.6" height="6.0" fill="url(#dots)" stroke="#828282" stroke-width="0.7"/><path d="M625.8 51.5H634.3" stroke="#828282" stroke-width="0.6"/>
<path d="M649.9 50.0V50.5M648.6 50.0H651.1" stroke="#1c1c1c" stroke-width="0.9" fill="none"/><path d="M649.9 56.2V56.8M648.6 56.8H651.1" stroke="#1c1c1c" stroke-width="0.9" fill="none"/><rect x="645.6" y="50.5" width="8.6" height="5.7" fill="url(#dots)" stroke="#828282" stroke-width="0.7"/><path d="M645.6 53.0H654.1" stroke="#828282" stroke-width="0.6"/>
<path d="M669.6 47.2V47.8M668.4 47.2H670.9" stroke="#1c1c1c" stroke-width="0.9" fill="none"/><path d="M669.6 58.1V58.6M668.4 58.6H670.9" stroke="#1c1c1c" stroke-width="0.9" fill="none"/><rect x="665.4" y="47.8" width="8.6" height="10.3" fill="url(#dots)" stroke="#828282" stroke-width="0.7"/><path d="M665.4 49.5H673.9" stroke="#828282" stroke-width="0.6"/>
<path d="M511.2 156.4V157.4M509.9 156.4H512.5" stroke="#1c1c1c" stroke-width="0.9" fill="none"/><path d="M511.2 163.9V165.0M509.9 165.0H512.5" stroke="#1c1c1c" stroke-width="0.9" fill="none"/><rect x="506.9" y="157.4" width="8.6" height="6.5" fill="url(#dots)" stroke="#828282" stroke-width="0.7"/><path d="M506.9 161.0H515.5" stroke="#828282" stroke-width="0.6"/>
<path d="M531.0 148.5V158.5M529.8 148.5H532.3" stroke="#1c1c1c" stroke-width="0.9" fill="none"/><path d="M531.0 164.7V166.9M529.8 166.9H532.3" stroke="#1c1c1c" stroke-width="0.9" fill="none"/><rect x="526.8" y="158.5" width="8.6" height="6.2" fill="url(#dots)" stroke="#828282" stroke-width="0.7"/><path d="M526.8 161.5H535.3" stroke="#828282" stroke-width="0.6"/><circle cx="531.0" cy="144.5" r="1.35" fill="#fff" stroke="#555" stroke-width="0.65"/>
<path d="M550.9 154.5V155.8M549.6 154.5H552.1" stroke="#1c1c1c" stroke-width="0.9" fill="none"/><path d="M550.9 166.1V171.5M549.6 171.5H552.1" stroke="#1c1c1c" stroke-width="0.9" fill="none"/><rect x="546.6" y="155.8" width="8.6" height="10.3" fill="url(#dots)" stroke="#828282" stroke-width="0.7"/>
<path d="M570.6 151.2V153.9M569.4 151.2H571.9" stroke="#1c1c1c" stroke-width="0.9" fill="none"/><path d="M570.6 160.1V167.4M569.4 167.4H571.9" stroke="#1c1c1c" stroke-width="0.9" fill="none"/><rect x="566.4" y="153.9" width="8.6" height="6.2" fill="url(#dots)" stroke="#828282" stroke-width="0.7"/><path d="M566.4 156.6H574.9" stroke="#828282" stroke-width="0.6"/>
<path d="M610.2 152.8V155.5M609.0 152.8H611.5" stroke="#1c1c1c" stroke-width="0.9" fill="none"/><path d="M610.2 166.6V172.8M609.0 172.8H611.5" stroke="#1c1c1c" stroke-width="0.9" fill="none"/><rect x="606.0" y="155.5" width="8.6" height="11.1" fill="url(#dots)" stroke="#828282" stroke-width="0.7"/><path d="M606.0 163.4H614.5" stroke="#828282" stroke-width="0.6"/>
<path d="M630.0 148.5V149.3M628.8 148.5H631.3" stroke="#1c1c1c" stroke-width="0.9" fill="none"/><path d="M630.0 157.4V164.2M628.8 164.2H631.3" stroke="#1c1c1c" stroke-width="0.9" fill="none"/><rect x="625.8" y="149.3" width="8.6" height="8.1" fill="url(#dots)" stroke="#828282" stroke-width="0.7"/><path d="M625.8 153.1H634.3" stroke="#828282" stroke-width="0.6"/>
<path d="M649.9 141.8V155.5M648.6 141.8H651.1" stroke="#1c1c1c" stroke-width="0.9" fill="none"/><path d="M649.9 164.2V177.4M648.6 177.4H651.1" stroke="#1c1c1c" stroke-width="0.9" fill="none"/><rect x="645.6" y="155.5" width="8.6" height="8.7" fill="url(#dots)" stroke="#828282" stroke-width="0.7"/><path d="M645.6 160.1H654.1" stroke="#828282" stroke-width="0.6"/><path d="M645.6 161.2H654.1" stroke="#828282" stroke-width="0.6"/><circle cx="649.9" cy="138.2" r="1.35" fill="#fff" stroke="#555" stroke-width="0.65"/>
<path d="M669.6 141.2V147.4M668.4 141.2H670.9" stroke="#1c1c1c" stroke-width="0.9" fill="none"/><path d="M669.6 161.2V168.8M668.4 168.8H670.9" stroke="#1c1c1c" stroke-width="0.9" fill="none"/><rect x="665.4" y="147.4" width="8.6" height="13.8" fill="url(#dots)" stroke="#828282" stroke-width="0.7"/><path d="M665.4 159.3H673.9" stroke="#828282" stroke-width="0.6"/>
</g>
</svg>
</body></html>
